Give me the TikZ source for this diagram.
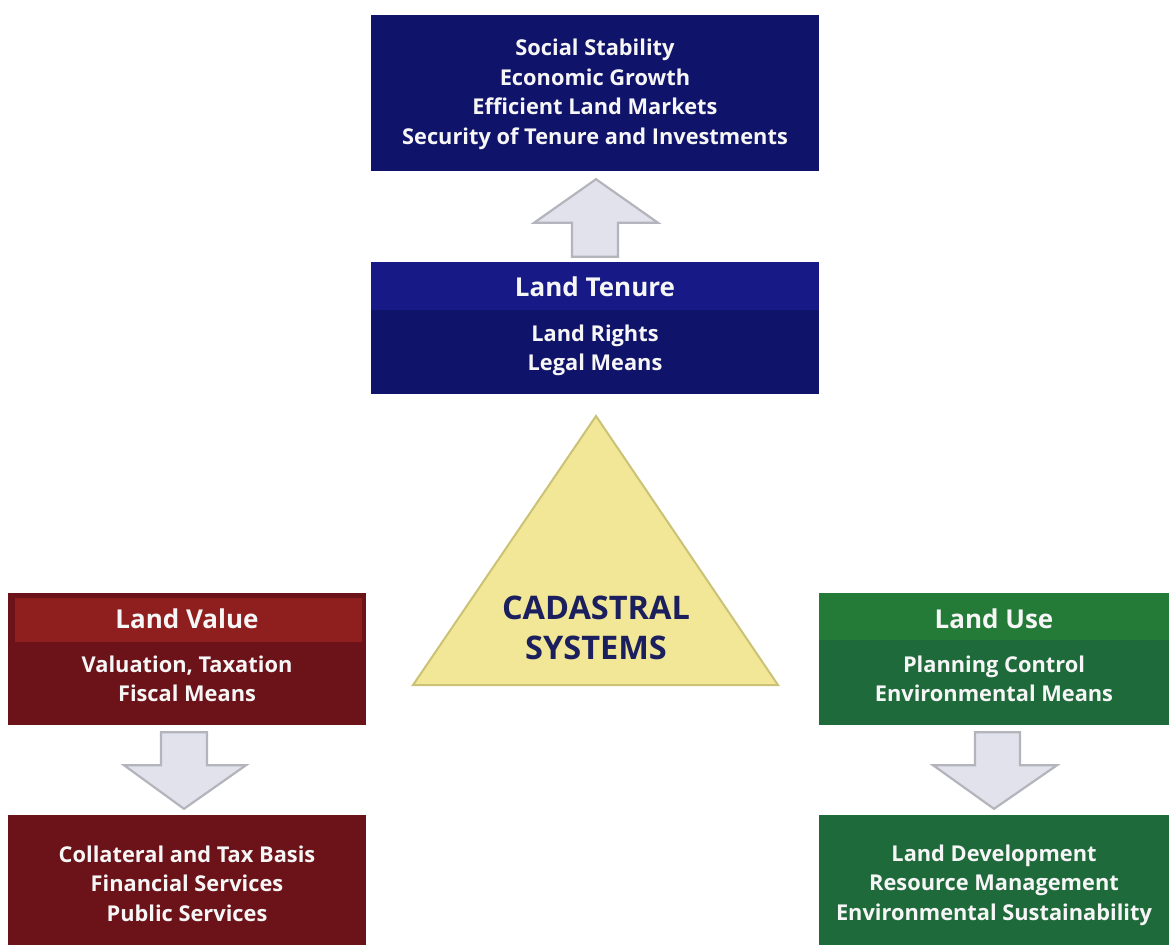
\documentclass[tikz,border=0pt]{standalone}
\usepackage{fontspec}
\setmainfont{Open Sans}
\usetikzlibrary{calc}
\definecolor{navyBody}{HTML}{10136A}
\definecolor{navyHead}{HTML}{171A86}
\definecolor{redBody}{HTML}{6C1219}
\definecolor{redHead}{HTML}{8F1F1E}
\definecolor{greenBody}{HTML}{1F6A3B}
\definecolor{greenHead}{HTML}{247A37}
\definecolor{arrowFill}{HTML}{E2E2EC}
\definecolor{arrowLine}{HTML}{B4B4BC}
\definecolor{triFill}{HTML}{F1E796}
\definecolor{triLine}{HTML}{CBC276}
\definecolor{triText}{HTML}{1B1F5E}
\definecolor{boxText}{HTML}{F6F6F6}
\tikzset{
  box/.style={rectangle, inner sep=0pt, draw=none},
  boxtext/.style={text=boxText, align=center, font=\bfseries\fontsize{21.8}{29.5}\selectfont},
  titletext/.style={text=boxText, align=center, font=\bfseries\fontsize{26}{30}\selectfont},
  blockarrow/.style={fill=arrowFill, draw=arrowLine, line width=2.2pt, line join=miter}
}
\begin{document}
\begin{tikzpicture}[x=1pt,y=-1pt]
\useasboundingbox (0,0) rectangle (1169,945);
\fill[white] (0,0) rectangle (1169,945);

% top goals box
\node[box, fill=navyBody, minimum width=448pt, minimum height=156pt] (goals) at (595,93) {};
\node[boxtext] (goalstext) at (595,94.5) {Social Stability\\Economic Growth\\Efficient Land Markets\\Security of Tenure and Investments};

% land tenure
\node[box, fill=navyBody, minimum width=448pt, minimum height=132pt] (tenure) at (595,328) {};
\fill[navyHead] (tenure.north west) rectangle ($(tenure.north east)+(0,48)$);
\node[titletext] (tenuretitle) at (595,287) {Land Tenure};
\node[boxtext] (tenuretext) at (595,350.5) {Land Rights\\Legal Means};

% land value
\node[box, fill=redBody, minimum width=358pt, minimum height=132pt] (value) at (187,659) {};
\fill[redHead] ($(value.north west)+(7,5)$) rectangle ($(value.north east)+(-4,49)$);
\node[titletext] (valuetitle) at (187,619) {Land Value};
\node[boxtext] (valuetext) at (187,679) {Valuation, Taxation\\Fiscal Means};

\node[box, fill=redBody, minimum width=358pt, minimum height=130pt] (finance) at (187,880) {};
\node[boxtext] (financetext) at (187,883.5) {Collateral and Tax Basis\\Financial Services\\Public Services};

% land use
\node[box, fill=greenBody, minimum width=350pt, minimum height=132pt] (use) at (994,659) {};
\fill[greenHead] (use.north west) rectangle ($(use.north east)+(0,47)$);
\node[titletext] (usetitle) at (994,619) {Land Use};
\node[boxtext] (usetext) at (994,679) {Planning Control\\Environmental Means};

\node[box, fill=greenBody, minimum width=350pt, minimum height=130pt] (develop) at (994,880) {};
\node[boxtext] (developtext) at (994,885) {Land Development\\Resource Management\\Environmental Sustainability};

% triangle
\draw[fill=triFill, draw=triLine, line width=2pt, line join=miter] (596,416) -- (778,685) -- (413,685) -- cycle;
\node[text=triText, align=center, font=\bfseries\fontsize{32.5}{40}\selectfont] (cadastral) at (596,628) {CADASTRAL\\SYSTEMS};

% block arrows
\draw[blockarrow] ($(tenure.north)+(-23,-5)$) -- ($(tenure.north)+(-23,-39)$) -- ($(tenure.north)+(-61,-39)$)
  -- ($(goals.south)+(1,8)$) -- ($(tenure.north)+(63,-39)$) -- ($(tenure.north)+(23,-39)$) -- ($(tenure.north)+(23,-5)$) -- cycle;

\draw[blockarrow] ($(value.south)+(-26,7)$) -- ($(value.south)+(-26,40)$) -- ($(value.south)+(-63,40)$)
  -- ($(finance.north)+(-3,-6)$) -- ($(value.south)+(59,40)$) -- ($(value.south)+(20,40)$) -- ($(value.south)+(20,7)$) -- cycle;

\draw[blockarrow] ($(use.south)+(-19,7)$) -- ($(use.south)+(-19,40)$) -- ($(use.south)+(-61,40)$)
  -- ($(develop.north)+(0,-6)$) -- ($(use.south)+(63,40)$) -- ($(use.south)+(26,40)$) -- ($(use.south)+(26,7)$) -- cycle;
\end{tikzpicture}
\end{document}
